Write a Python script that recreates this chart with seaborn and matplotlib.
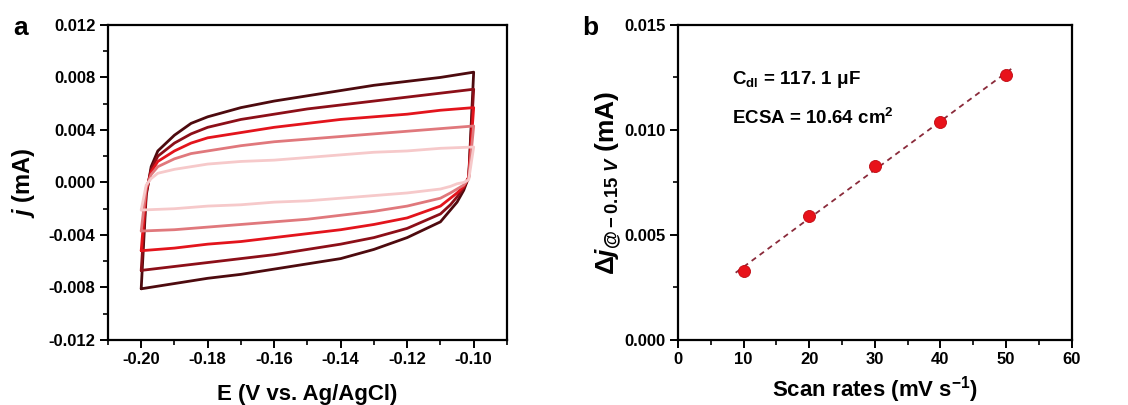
import numpy as np
import pandas as pd
import matplotlib
matplotlib.use("Agg")
import matplotlib.pyplot as plt
import seaborn as sns
from matplotlib.ticker import MultipleLocator, FormatStrFormatter

sns.set_theme(style="white")
plt.rcParams['font.family'] = ['Liberation Sans', 'DejaVu Sans']
plt.rcParams['font.weight'] = 'bold'
plt.rcParams['text.color'] = 'black'
plt.rcParams['axes.labelcolor'] = 'black'
plt.rcParams['xtick.color'] = 'black'
plt.rcParams['ytick.color'] = 'black'
plt.rcParams['mathtext.fontset'] = 'custom'
plt.rcParams['mathtext.rm'] = 'Liberation Sans:bold'
plt.rcParams['mathtext.it'] = 'Liberation Sans:bold:italic'
plt.rcParams['mathtext.bf'] = 'Liberation Sans:bold'

# ---- Panel a: CV curves ----
scan_rates = [50, 40, 30, 20, 10]
E_up = [-0.200, -0.1985, -0.197, -0.195, -0.19, -0.185, -0.18, -0.17, -0.16,
        -0.15, -0.14, -0.13, -0.12, -0.11, -0.10]
E_lo = [-0.100, -0.1015, -0.103, -0.105, -0.107, -0.11, -0.12, -0.13, -0.14,
        -0.15, -0.16, -0.17, -0.18, -0.19, -0.20]
j_up_50 = [-0.0081, -0.0010, 0.0012, 0.0024, 0.0036, 0.0045, 0.0050, 0.0057, 0.0062, 0.0066, 0.0070, 0.0074, 0.0077, 0.0080, 0.0084]
j_up_40 = [-0.0067, -0.0008, 0.0010, 0.0020, 0.0030, 0.0037, 0.0042, 0.0048, 0.0052, 0.0056, 0.0059, 0.0062, 0.0065, 0.0068, 0.0071]
j_up_30 = [-0.0052, -0.0006, 0.0008, 0.0016, 0.0024, 0.0030, 0.0034, 0.0038, 0.0042, 0.0045, 0.0048, 0.0050, 0.0052, 0.0055, 0.0057]
j_up_20 = [-0.0037, -0.0004, 0.0006, 0.0012, 0.0018, 0.0022, 0.0024, 0.0028, 0.0031, 0.0033, 0.0035, 0.0037, 0.0039, 0.0041, 0.0043]
j_up_10 = [-0.0021, -0.0002, 0.0003, 0.0007, 0.0010, 0.0012, 0.0014, 0.0016, 0.0017, 0.0019, 0.0021, 0.0023, 0.0024, 0.0026, 0.0027]
j_lo_50 = [0.0084, 0.0004, -0.0006, -0.0015, -0.0021, -0.0030, -0.0042, -0.0051, -0.0058, -0.0062, -0.0066, -0.0070, -0.0073, -0.0077, -0.0081]
j_lo_40 = [0.0071, 0.0004, -0.0004, -0.0011, -0.0017, -0.0024, -0.0035, -0.0042, -0.0047, -0.0051, -0.0055, -0.0058, -0.0061, -0.0064, -0.0067]
j_lo_30 = [0.0057, 0.0004, -0.0003, -0.0008, -0.0012, -0.0018, -0.0027, -0.0032, -0.0036, -0.0039, -0.0042, -0.0045, -0.0047, -0.0050, -0.0052]
j_lo_20 = [0.0043, 0.0003, -0.0002, -0.0005, -0.0008, -0.0012, -0.0018, -0.0022, -0.0025, -0.0028, -0.0030, -0.0032, -0.0034, -0.0036, -0.0037]
j_lo_10 = [0.0027, 0.0002, 0.0000, -0.0001, -0.0003, -0.0005, -0.0008, -0.0010, -0.0012, -0.0014, -0.0015, -0.0017, -0.0018, -0.0020, -0.0021]
cv_colors = ["#4d0a0e", "#8c0f18", "#e3141c", "#e0787c", "#f6c9ca"]

# ---- Panel b: linear fit ----
rates = [10, 20, 30, 40, 50]
delta_j = [0.0033, 0.0059, 0.0083, 0.0104, 0.0126]

up = {50: j_up_50, 40: j_up_40, 30: j_up_30, 20: j_up_20, 10: j_up_10}
lo = {50: j_lo_50, 40: j_lo_40, 30: j_lo_30, 20: j_lo_20, 10: j_lo_10}
rows = []
for r in scan_rates:
    Es = E_up + E_lo
    js = up[r] + lo[r]
    for k, (e, j) in enumerate(zip(Es, js)):
        rows.append({"rate": r, "E": e, "j": j, "order": k})
cv = pd.DataFrame(rows)

fig = plt.figure(figsize=(11.28, 4.05), dpi=100)
axa = fig.add_axes([0.0957, 0.1605, 0.3537, 0.778])
axb = fig.add_axes([0.601, 0.1605, 0.349, 0.778])

for r, c in zip(scan_rates, cv_colors):
    d = cv[cv.rate == r]
    sns.lineplot(data=d, x="E", y="j", sort=False, estimator=None, ax=axa,
                 color=c, lw=2.0, legend=False)

axa.set_xlim(-0.21, -0.09)
axa.set_ylim(-0.012, 0.012)
axa.xaxis.set_major_locator(MultipleLocator(0.02))
axa.xaxis.set_minor_locator(MultipleLocator(0.01))
axa.yaxis.set_major_locator(MultipleLocator(0.004))
axa.yaxis.set_minor_locator(MultipleLocator(0.002))
axa.xaxis.set_major_formatter(FormatStrFormatter('%.2f'))
axa.yaxis.set_major_formatter(FormatStrFormatter('%.3f'))
axa.set_xlabel("E (V vs. Ag/AgCl)", fontsize=16, fontweight='bold', labelpad=12)
axa.set_ylabel(r"$\mathit{j}$ (mA)", fontsize=17, fontweight='bold', labelpad=8)

df_b = pd.DataFrame({"rate": rates, "dj": delta_j})
slope, intercept = np.polyfit(rates, delta_j, 1)
xf = np.array([8.8, 50.8])
axb.plot(xf, slope * xf + intercept, ls=(0, (3, 2.5)), color="#8a2a3a", lw=1.3, zorder=2)
sns.scatterplot(data=df_b, x="rate", y="dj", ax=axb, color="#e8121a", s=75,
                edgecolor="#c00a12", linewidth=0.6, zorder=3, legend=False)
axb.set_xlim(0, 60)
axb.set_ylim(0, 0.015)
axb.xaxis.set_major_locator(MultipleLocator(10))
axb.xaxis.set_minor_locator(MultipleLocator(5))
axb.yaxis.set_major_locator(MultipleLocator(0.005))
axb.yaxis.set_minor_locator(MultipleLocator(0.0025))
axb.yaxis.set_major_formatter(FormatStrFormatter('%.3f'))
axb.set_xlabel(r"Scan rates (mV s$^{\mathregular{-1}}$)", fontsize=16, fontweight='bold', labelpad=5)
axb.set_ylabel(r"$\mathit{\Delta j}_{\mathit{@-0.15\ V}}$ (mA)", fontsize=19, fontweight='bold', labelpad=1)
axb.text(8.2, 0.01238, r"C$_{\mathregular{dl}}$ = 117. 1 μF", fontsize=13.5, fontweight='bold', va='center')
axb.text(8.2, 0.01057, r"ECSA = 10.64 cm$^{\mathregular{2}}$", fontsize=13.5, fontweight='bold', va='center')

for ax in (axa, axb):
    for s in ax.spines.values():
        s.set_linewidth(1.6)
        s.set_color('black')
    ax.tick_params(which='major', direction='out', length=6, width=1.4,
                   labelsize=12, colors='black', left=True, bottom=True, top=False, right=False, pad=3)
    ax.tick_params(which='minor', direction='out', length=3.5, width=1.2,
                   left=True, bottom=True, top=False, right=False)
    for lab in ax.get_xticklabels() + ax.get_yticklabels():
        lab.set_fontweight('bold')

fig.text(0.012, 0.93, "a", fontsize=19, fontweight='bold', va='center')
fig.text(0.516, 0.93, "b", fontsize=19, fontweight='bold', va='center')

fig.savefig("out.png", dpi=100, facecolor='white')
